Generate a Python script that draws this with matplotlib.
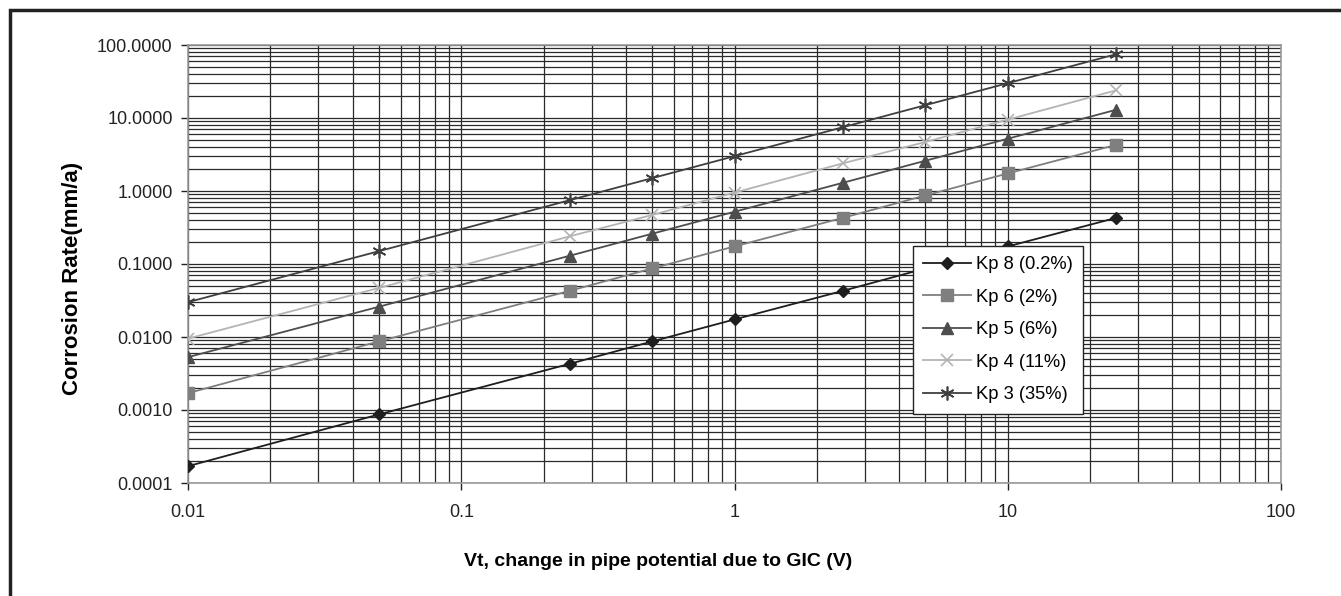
"""
Corrosion rate vs change in pipe potential due to GIC, for five Kp levels.
Log-log chart in the old Excel style.
"""

import matplotlib
matplotlib.use('Agg')
import matplotlib.pyplot as plt
from matplotlib.ticker import FixedLocator, FixedFormatter, LogLocator, NullFormatter
from matplotlib.patches import Rectangle

plt.rcParams['font.family'] = ['Liberation Sans', 'DejaVu Sans']

vt = [0.01, 0.05, 0.25, 0.5, 1, 2.5, 5, 10, 25]

kp8 = [0.00017, 0.00087, 0.0043, 0.0087, 0.0174, 0.043, 0.087, 0.174, 0.43]
kp6 = [0.0017, 0.0087, 0.043, 0.087, 0.174, 0.43, 0.87, 1.74, 4.3]
kp5 = [0.0053, 0.026, 0.13, 0.26, 0.52, 1.3, 2.6, 5.2, 13.0]
kp4 = [0.0095, 0.047, 0.24, 0.47, 0.95, 2.4, 4.7, 9.5, 24.0]
kp3 = [0.030, 0.15, 0.75, 1.5, 3.0, 7.5, 15.0, 30.0, 75.0]

labels = ["Kp 8 (0.2%)", "Kp 6 (2%)", "Kp 5 (6%)", "Kp 4 (11%)", "Kp 3 (35%)"]

x_ticks = [0.01, 0.1, 1, 10, 100]
x_tick_labels = ["0.01", "0.1", "1", "10", "100"]
y_ticks = [0.0001, 0.001, 0.01, 0.1, 1, 10, 100]
y_tick_labels = ["0.0001", "0.0010", "0.0100", "0.1000", "1.0000", "10.0000", "100.0000"]

W, H = 1341, 596
L, R, T, B = 188, 1281, 45, 483
fig = plt.figure(figsize=(W / 100, H / 100), dpi=100)
ax = fig.add_axes([L / W, 1 - B / H, (R - L) / W, (B - T) / H])

# outer chart frame (right and bottom edges are cropped in the original)
fig.patches.append(Rectangle((10 / W, -0.05), 1.2, 1 - 10 / H + 0.05,
                             transform=fig.transFigure, fill=False,
                             edgecolor='#222222', linewidth=2.5))

styles = [
    dict(color='#1e1e1e', marker='D', markersize=6.5, mfc='#1e1e1e', mec='#1e1e1e'),
    dict(color='#7f7f7f', marker='s', markersize=8.5, mfc='#7f7f7f', mec='#7f7f7f'),
    dict(color='#4d4d4d', marker='^', markersize=8.5, mfc='#4d4d4d', mec='#4d4d4d'),
    dict(color='#b4b4b4', marker='x', markersize=9, mfc='none', mec='#b4b4b4', mew=1.2),
    dict(color='#3f3f3f', marker=(6, 2, 0), markersize=10, mfc='none', mec='#3f3f3f', mew=1.2),
]
series = [kp8, kp6, kp5, kp4, kp3]

for ys, lab, st in zip(series, labels, styles):
    ax.plot(vt, ys, label=lab, linewidth=1.3, zorder=3, **st)

ax.set_xscale('log')
ax.set_yscale('log')
ax.set_xlim(0.01, 100)
ax.set_ylim(0.0001, 100)

ax.xaxis.set_major_locator(FixedLocator(x_ticks))
ax.xaxis.set_major_formatter(FixedFormatter(x_tick_labels))
ax.yaxis.set_major_locator(FixedLocator(y_ticks))
ax.yaxis.set_major_formatter(FixedFormatter(y_tick_labels))
ax.xaxis.set_minor_locator(LogLocator(base=10, subs=range(2, 10), numticks=20))
ax.yaxis.set_minor_locator(LogLocator(base=10, subs=range(2, 10), numticks=20))
ax.xaxis.set_minor_formatter(NullFormatter())
ax.yaxis.set_minor_formatter(NullFormatter())

ax.grid(True, which='both', color='#2a2a2a', linewidth=0.9)
ax.set_axisbelow(True)
ax.tick_params(which='major', direction='out', length=5, width=1, color='#222222',
               labelsize=13, labelcolor='#222222')
ax.tick_params(which='minor', length=0)
ax.tick_params(axis='y', pad=6)
ax.tick_params(axis='x', pad=10)
for sp in ax.spines.values():
    sp.set_color('#999999')
    sp.set_linewidth(1.2)

ax.set_xlabel("Vt, change in pipe potential due to GIC (V)", fontsize=14,
              fontweight='bold')
ax.xaxis.set_label_coords((658 - L) / (R - L), (B - 562) / (B - T), transform=ax.transAxes)
ax.xaxis.label.set_va('center')
ax.set_ylabel("Corrosion Rate(mm/a)", fontsize=16, fontweight='bold')
ax.yaxis.set_label_coords((73 - L) / (R - L), (B - 278) / (B - T), transform=ax.transAxes)
ax.yaxis.label.set_va('center')

leg = ax.legend(loc='upper left', bbox_to_anchor=((913 - L) / (R - L),
                                                   (B - 246) / (B - T)),
                fontsize=13.2, frameon=True, fancybox=False, framealpha=1,
                edgecolor='#222222', handlelength=2.6, labelspacing=0.85,
                borderpad=0.55, handletextpad=0.3, borderaxespad=0)
leg.get_frame().set_linewidth(1.0)
leg.set_zorder(5)

fig.savefig("out.png", dpi=100)
